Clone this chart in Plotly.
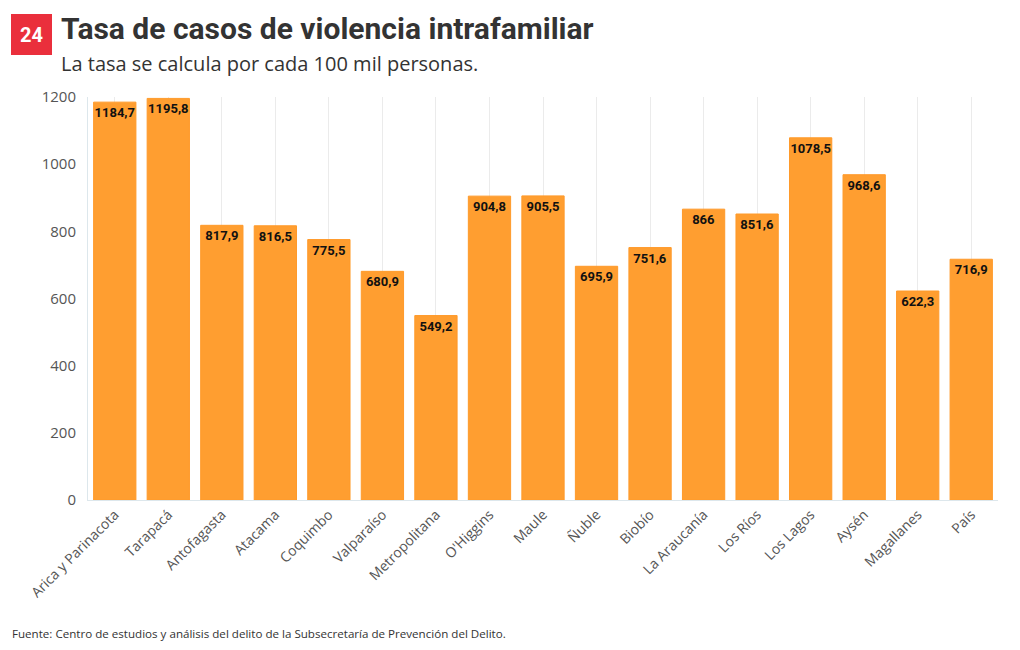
import plotly.graph_objects as go

regions = ["Arica y Parinacota", "Tarapacá", "Antofagasta", "Atacama", "Coquimbo",
           "Valparaíso", "Metropolitana", "O'Higgins", "Maule", "Ñuble", "Biobío",
           "La Araucanía", "Los Ríos", "Los Lagos", "Aysén", "Magallanes", "País"]
rates = [1184.7, 1195.8, 817.9, 816.5, 775.5, 680.9, 549.2, 904.8, 905.5, 695.9,
         751.6, 866, 851.6, 1078.5, 968.6, 622.3, 716.9]
y_ticks = [0, 200, 400, 600, 800, 1000, 1200]

def fmt(v):
    s = ("%.1f" % v)
    if s.endswith(".0"):
        s = s[:-2]
    return s.replace(".", ",")

labels = [fmt(v) for v in rates]

W, H = 1020, 650
L, R, T, B = 88, 22, 97, 150
pw, ph = W - L - R, H - T - B

def px(x):
    return (x - L) / pw

def py(y):
    return (H - B - y) / ph

fig = go.Figure(go.Bar(
    x=regions, y=rates, text=labels,
    textposition="inside", insidetextanchor="end", constraintext="none",
    textfont=dict(family="Roboto", size=13, color="#111111", weight="bold"),
    textangle=0,
    marker=dict(color="#FF9E30", line=dict(color="#FF9A2A", width=1)),
    hoverinfo="x+y",
))

fig.update_layout(
    width=W, height=H,
    margin=dict(l=L, r=R, t=T, b=B),
    paper_bgcolor="white", plot_bgcolor="white",
    bargap=0.21,
    showlegend=False,
    font=dict(family="Open Sans", color="#555555"),
    xaxis=dict(
        tickangle=-45, tickfont=dict(size=14, color="#555555", family="Open Sans"),
        showgrid=True, gridcolor="#ebebeb", gridwidth=1,
        showline=True, linecolor="#dde7ec", linewidth=1,
        ticks="", ticklen=4,
    ),
    yaxis=dict(
        range=[0, 1200], tickvals=y_ticks,
        tickfont=dict(size=15, color="#555555", family="Open Sans"),
        showgrid=False, zeroline=False,
        showline=True, linecolor="#dde7ec", linewidth=1,
        ticks="", ticklabelstandoff=8,
    ),
    shapes=[dict(type="rect", xref="paper", yref="paper",
                 x0=px(11), x1=px(52), y0=py(55), y1=py(14),
                 fillcolor="#EA2F3C", line=dict(width=0), layer="above")],
    annotations=[
        dict(text="<b>24</b>", xref="paper", yref="paper", x=px(31.5), y=py(35),
             xanchor="center", yanchor="middle", showarrow=False,
             font=dict(family="Roboto", size=20, color="white")),
        dict(text="<b>Tasa de casos de violencia intrafamiliar</b>", xref="paper", yref="paper",
             x=px(59), y=py(28), xanchor="left", yanchor="middle", showarrow=False,
             font=dict(family="Roboto", size=30, color="#333333")),
        dict(text="La tasa se calcula por cada 100 mil personas.", xref="paper", yref="paper",
             x=px(59), y=py(63), xanchor="left", yanchor="middle", showarrow=False,
             font=dict(family="Open Sans", size=20, color="#333333")),
        dict(text="Fuente: Centro de estudios y análisis del delito de la Subsecretaría de Prevención del Delito.",
             xref="paper", yref="paper", x=px(10), y=py(633), xanchor="left", yanchor="middle",
             showarrow=False, font=dict(family="Open Sans", size=11.6, color="#333333")),
    ],
)

fig.write_html("out.html", config={"displayModeBar": False},
               post_script="document.body.style.margin='0px';")
